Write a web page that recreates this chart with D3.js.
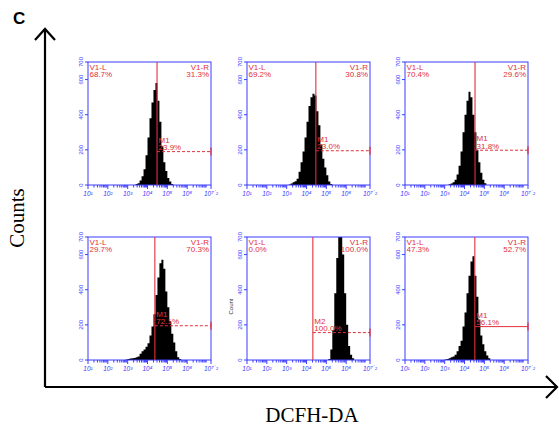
<!DOCTYPE html>
<html>
<head>
<meta charset="utf-8">
<script src="https://cdn.jsdelivr.net/npm/d3@7"></script>
<style>
  body { margin: 0; background: #fff; }
  svg { display: block; }
</style>
</head>
<body>
<svg width="559" height="431"></svg>
<script>
// histogram bins: 0.1 decade wide, starting at binStart (log10 of intensity)
const binStart = [3.4, 3.1, 3.2, 2.9, 5.1, 3.0];
const counts1 = [5, 10, 25, 50, 90, 170, 270, 380, 470, 540, 580, 480, 360, 220, 130, 80, 40, 20, 5];
const counts2 = [3, 8, 15, 22, 35, 75, 130, 190, 270, 360, 450, 500, 520, 510, 420, 340, 230, 150, 100, 55, 20, 5];
const counts3 = [4, 8, 15, 30, 60, 110, 190, 300, 400, 480, 530, 500, 400, 300, 200, 130, 70, 30, 10];
const counts4 = [3, 5, 8, 10, 12, 15, 20, 35, 50, 60, 75, 95, 140, 190, 260, 370, 470, 550, 570, 520, 390, 300, 220, 150, 100, 50, 15, 5];
const counts5 = [5, 60, 170, 380, 580, 760, 780, 600, 380, 200, 80, 30, 10];
const counts6 = [3, 6, 10, 15, 20, 30, 50, 80, 110, 190, 270, 380, 480, 560, 590, 480, 360, 230, 140, 90, 50, 25, 10];
const allCounts = [counts1, counts2, counts3, counts4, counts5, counts6];

const gateX = [4.48, 4.47, 4.53, 4.37, 4.32, 4.52];
const leftPct = ['68.7%', '69.2%', '70.4%', '29.7%', '0.0%', '47.3%'];
const rightPct = ['31.3%', '30.8%', '29.6%', '70.3%', '100.0%', '52.7%'];
const markerName = ['M1', 'M1', 'M1', 'M1', 'M2', 'M1'];
const markerPct = ['23.9%', '23.0%', '31.8%', '72.1%', '100.0%', '56.1%'];
const markerY = [190, 195, 198, 195, 156, 190];
const markerDashed = [true, true, true, true, true, false];

const yTicks = [0, 200, 400, 600, 700];
const xTicks = [1, 2, 3, 4, 5, 6, 7.2];

const blue = '#3d3dff';
const red = '#e0303c';
const colX = [88, 247, 405];
const rowY = [62, 237];
const pw = 123;
const ph = 123;

const svg = d3.select('svg');

// outer axes with open arrowheads
const axes = svg.append('g')
  .attr('stroke', '#000')
  .attr('stroke-width', 2.2)
  .attr('fill', 'none');
axes.append('path').attr('d', 'M45,387V29');
axes.append('path').attr('d', 'M35,40L45,29L55,40');
axes.append('path').attr('d', 'M45,387H556');
axes.append('path').attr('d', 'M546,376L557,387L546,398');

svg.append('text')
  .attr('x', 13)
  .attr('y', 24)
  .attr('font-family', 'Liberation Sans, Arial, sans-serif')
  .attr('font-weight', 'bold')
  .attr('font-size', 17)
  .text('C');

svg.append('text')
  .attr('transform', 'translate(24,218) rotate(-90)')
  .attr('text-anchor', 'middle')
  .attr('font-family', 'Liberation Serif, Times New Roman, serif')
  .attr('font-size', 21)
  .text('Counts');

svg.append('text')
  .attr('x', 312)
  .attr('y', 422)
  .attr('text-anchor', 'middle')
  .attr('font-family', 'Liberation Serif, Times New Roman, serif')
  .attr('font-size', 21)
  .text('DCFH-DA');

const x = d3.scaleLog().domain([10, 10 ** 7.2]).range([0, pw]);
const y = d3.scaleLinear().domain([0, 700]).range([ph, 0]);

const sup = { '1': '\u00b9', '2': '\u00b2', '3': '\u00b3', '4': '\u2074', '5': '\u2075', '6': '\u2076', '7.2': '\u2077\u02d9\u00b2' };

const area = d3.area()
  .curve(d3.curveStepAfter)
  .x(d => x(10 ** d[0]))
  .y0(ph)
  .y1(d => y(d[1]));

allCounts.forEach((counts, i) => {
  const g = svg.append('g')
    .attr('transform', `translate(${colX[i % 3]},${rowY[Math.floor(i / 3)]})`);

  const clipId = 'clip' + i;
  g.append('clipPath').attr('id', clipId)
    .append('rect').attr('width', pw).attr('height', ph);

  // histogram as one stepped area
  const pts = counts.map((c, k) => [binStart[i] + k * 0.1, c]);
  pts.push([binStart[i] + counts.length * 0.1, 0]);
  g.append('path')
    .attr('clip-path', `url(#${clipId})`)
    .attr('d', area(pts))
    .attr('fill', '#000');

  // frame
  g.append('rect')
    .attr('width', pw)
    .attr('height', ph)
    .attr('fill', 'none')
    .attr('stroke', blue)
    .attr('stroke-width', 1);

  // x axis: log ticks
  const minor = [];
  for (let d = 1; d < 7.2; d++) {
    for (let m = 2; m <= 9; m++) {
      const v = d + Math.log10(m);
      if (v < 7.2) minor.push(v);
    }
  }
  const xa = g.append('g').attr('transform', `translate(0,${ph})`).attr('stroke', blue);
  xa.selectAll('line.minor').data(minor).join('line')
    .attr('class', 'minor')
    .attr('x1', d => x(10 ** d)).attr('x2', d => x(10 ** d))
    .attr('y1', 0).attr('y2', 2.5);
  xa.selectAll('line.major').data(xTicks).join('line')
    .attr('class', 'major')
    .attr('x1', d => x(10 ** d)).attr('x2', d => x(10 ** d))
    .attr('y1', 0).attr('y2', 4);
  g.append('g')
    .selectAll('text')
    .data(xTicks)
    .join('text')
    .attr('x', d => x(10 ** d))
    .attr('y', ph + 11)
    .attr('text-anchor', 'middle')
    .attr('font-family', 'Liberation Sans, Arial, sans-serif')
    .attr('font-size', 6.5)
    .attr('font-style', 'italic')
    .attr('fill', blue)
    .text(d => '10' + sup[String(d)]);

  // y axis
  const ya = g.append('g').attr('stroke', blue);
  ya.selectAll('line').data(yTicks).join('line')
    .attr('x1', -3).attr('x2', 0)
    .attr('y1', d => y(d)).attr('y2', d => y(d));
  g.append('g')
    .selectAll('text')
    .data(yTicks)
    .join('text')
    .attr('transform', d => `translate(-5,${y(d)}) rotate(-90)`)
    .attr('text-anchor', 'middle')
    .attr('font-family', 'Liberation Sans, Arial, sans-serif')
    .attr('font-size', 6)
    .attr('fill', blue)
    .text(d => d);

  // gate line
  const gx = x(10 ** gateX[i]);
  g.append('line')
    .attr('x1', gx).attr('x2', gx)
    .attr('y1', 0).attr('y2', ph)
    .attr('stroke', red)
    .attr('stroke-width', 1.1);

  // marker
  const my = y(markerY[i]);
  g.append('line')
    .attr('x1', gx).attr('x2', pw)
    .attr('y1', my).attr('y2', my)
    .attr('stroke', red)
    .attr('stroke-width', 1)
    .attr('stroke-dasharray', markerDashed[i] ? '3,2' : null);
  g.append('line')
    .attr('x1', pw).attr('x2', pw)
    .attr('y1', my - 4).attr('y2', my + 4)
    .attr('stroke', red)
    .attr('stroke-width', 1.2);

  const txt = g.append('g')
    .attr('font-family', 'Liberation Sans, Arial, sans-serif')
    .attr('font-size', 8)
    .attr('fill', red);
  txt.append('text').attr('x', 1.5).attr('y', 7.5).text('V1-L');
  txt.append('text').attr('x', 1.5).attr('y', 15).text(leftPct[i]);
  txt.append('text').attr('x', pw - 2).attr('y', 7.5).attr('text-anchor', 'end').text('V1-R');
  txt.append('text').attr('x', pw - 2).attr('y', 15).attr('text-anchor', 'end').text(rightPct[i]);
  txt.append('text').attr('x', gx + 1.5).attr('y', my - 9).text(markerName[i]);
  txt.append('text').attr('x', gx + 1.5).attr('y', my - 1.5).text(markerPct[i]);

  if (i === 4) {
    g.append('text')
      .attr('transform', `translate(-14,${ph / 2 + 8}) rotate(-90)`)
      .attr('text-anchor', 'middle')
      .attr('font-family', 'Liberation Sans, Arial, sans-serif')
      .attr('font-size', 6)
      .attr('fill', '#333')
      .text('Count');
  }
});
</script>
</body>
</html>
